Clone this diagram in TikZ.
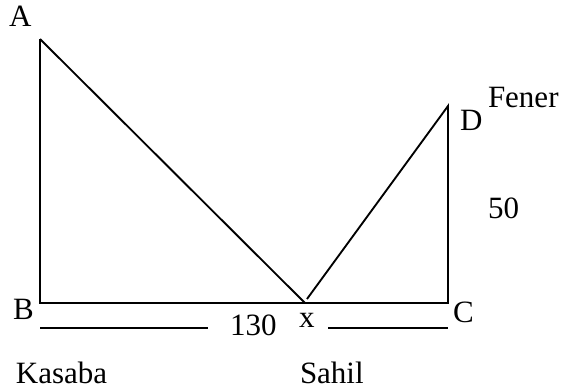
\documentclass[tikz,border=0pt]{standalone}
\usepackage{fontspec}
\setmainfont{Liberation Serif}
\begin{document}
\begin{tikzpicture}[x=0.75pt,y=-0.75pt,
  lbl/.style={anchor=base west,inner sep=0pt,outer sep=0pt,font=\fontsize{23.25}{28}\selectfont},
  ln/.style={line width=1.4pt}]
\useasboundingbox (0,0) rectangle (562,390);
\coordinate (A) at (40,39);
\coordinate (B) at (40,303);
\coordinate (C) at (448,303);
\coordinate (D) at (448,106);
\coordinate (X) at (305,303);
\coordinate (X2) at (307,299);
\coordinate (L1) at (40,328);
\coordinate (L2) at (208,328);
\coordinate (R1) at (328,328);
\coordinate (R2) at (448,328);
\draw[ln] (A) -- (B) -- (C) -- (D) -- (X2);
\draw[ln] (A) -- (X);
\draw[ln] (L1) -- (L2);
\draw[ln] (R1) -- (R2);
\node[lbl] (tA) at (9,26) {A};
\node[lbl] (tB) at (13,319) {B};
\node[lbl] (tC) at (453,322) {C};
\node[lbl] (tD) at (460,130) {D};
\node[lbl] (tF) at (488,107) {Fener};
\node[lbl] (t50) at (488,218) {50};
\node[lbl] (t130) at (230,335) {130};
\node[lbl] (tx) at (299,327) {x};
\node[lbl] (tK) at (16,383) {Kasaba};
\node[lbl] (tS) at (300,383) {Sahil};
\end{tikzpicture}
\end{document}
